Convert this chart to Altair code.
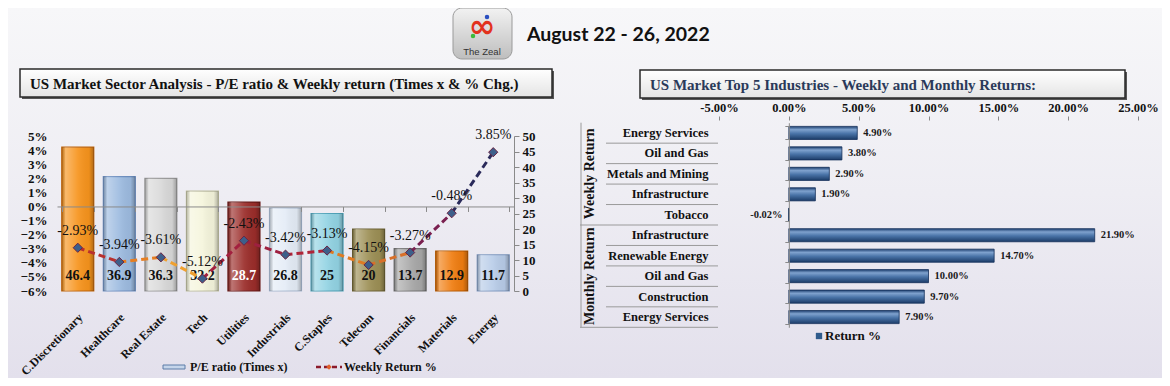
import altair as alt
import pandas as pd

# ---------------- data ----------------
sectors = ["C.Discretionary", "Healthcare", "Real Estate", "Tech", "Utilities", "Industrials",
           "C.Staples", "Telecom", "Financials", "Materials", "Energy"]
pe_ratio = [46.4, 36.9, 36.3, 32.2, 28.7, 26.8, 25, 20, 13.7, 12.9, 11.7]
weekly_return = [-2.93, -3.94, -3.61, -5.12, -2.43, -3.42, -3.13, -4.15, -3.27, -0.48, 3.85]

industry_groups = ["Weekly Return"] * 5 + ["Monthly Return"] * 5
industries = ["Energy Services", "Oil and Gas", "Metals and Mining", "Infrastructure", "Tobacco",
              "Infrastructure", "Renewable Energy", "Oil and Gas", "Construction", "Energy Services"]
industry_returns = [4.90, 3.80, 2.90, 1.90, -0.02, 21.90, 14.70, 10.00, 9.70, 7.90]

pe_axis_values = [0, 5, 10, 15, 20, 25, 30, 35, 40, 45, 50]
return_axis_values = [-6, -5, -4, -3, -2, -1, 0, 1, 2, 3, 4, 5]
industry_axis_values = [-5, 0, 5, 10, 15, 20, 25]

left_title = "US Market Sector Analysis - P/E ratio & Weekly return (Times x & % Chg.)"
right_title = "US Market Top 5 Industries - Weekly and Monthly Returns:"
date_text = "August 22 - 26, 2022"
logo_text = "The Zeal"
left_legend = ["P/E  ratio (Times x)", "Weekly Return %"]
right_legend = ["Return %"]
group_names = ["Weekly Return", "Monthly Return"]

# ---------------- styles ----------------
SERIF = "Liberation Serif"
bar_fills = ["#F7941D", "#9DBBE0", "#D9D9D9", "#F5F5DC", "#9B2D2A", "#E4ECF6",
             "#92D3E3", "#9C8F55", "#A8A8A8", "#F07D10", "#B8CCE8"]
bar_edges = ["#C0640A", "#6C8EBF", "#9A9A9A", "#BDBDA0", "#6B1A18", "#A7B8CF",
             "#4FA2B8", "#6C6235", "#707070", "#B85A00", "#7F98BF"]
segment_colors = ["#B8302E", "#E67E22", "#F0A030", "#A3203F", "#9E2040",
                  "#B02438", "#E07A22", "#D8702A", "#7A2050", "#2A2A5A"]

W, H = 1154, 370
LX0, LX1 = 49, 506
LYB, LYT = 283, 128
RX0, RX1 = 711, 1130
RYT, RYB = 114.7, 319.3
ZERO_L = LYB - 6 / 11 * (LYB - LYT)
ZERO_R = RX0 + 5 / 30 * (RX1 - RX0)
STEP_R = (RYB - RYT) / len(industries)

sec_df = pd.DataFrame({"sector": sectors, "pe": pe_ratio, "ret": weekly_return})
seg_rows = []
for i in range(len(sectors) - 1):
    for j in (i, i + 1):
        seg_rows.append({"seg": i, "sector": sectors[j], "ret": weekly_return[j], "col": segment_colors[i]})
seg_df = pd.DataFrame(seg_rows)

row_ids = [f"{g}|{n}" for g, n in zip(industry_groups, industries)]
ind_df = pd.DataFrame({"row": row_ids, "group": industry_groups, "name": industries, "val": industry_returns})
ind_df["first"] = ind_df["group"] != ind_df["group"].shift()
ind_df["last"] = ind_df["group"] != ind_df["group"].shift(-1)

one = pd.DataFrame({"k": [0]})


def pct(field, fmt):
    return f"(datum.{field} < 0 ? '-' : '') + format(abs(datum.{field}), '{fmt}') + '%'"


def sx(axis=None):
    return alt.X("sector:N", title=None, axis=axis,
                 scale=alt.Scale(type="band", domain=sectors, range=[LX0, LX1],
                                 paddingInner=0.23, paddingOuter=0.115))


def ret_y(axis=None):
    return alt.Y("ret:Q", title=None, axis=axis,
                 scale=alt.Scale(domain=[-6, 5], range=[LYB, LYT], nice=False, zero=False))


def pe_y(axis=None):
    return alt.Y("pe:Q", title=None, axis=axis,
                 scale=alt.Scale(domain=[0, 50], range=[LYB, LYT], nice=False))


def ry(axis=None, inner=0.36, bp=None):
    kw = {}
    if bp is not None:
        kw["bandPosition"] = bp
    return alt.Y("row:N", title=None, axis=axis,
                 scale=alt.Scale(type="band", domain=row_ids, range=[RYT, RYB],
                                 paddingInner=inner, paddingOuter=inner / 2), **kw)


def rx(axis=None):
    return alt.X("val:Q", title=None, axis=axis,
                 scale=alt.Scale(domain=[-5, 25], range=[RX0, RX1], nice=False, zero=False))


lab = dict(labelFont=SERIF, labelFontWeight="bold", labelColor="#111", grid=False,
           labelOverlap=False, labelFlush=False, zindex=2)

# ---------------- background ----------------
bg = alt.Chart(one).mark_rect(fill=alt.Gradient(
    gradient="linear", x1=0, x2=0, y1=0, y2=1,
    stops=[alt.GradientStop(color="#F7F7F9", offset=0),
           alt.GradientStop(color="#EEEDF3", offset=0.5),
           alt.GradientStop(color="#E3E0EC", offset=1)])).encode(
    x=alt.value(0), x2=alt.value(W), y=alt.value(0), y2=alt.value(H))

# ---------------- header ----------------
logo_box = alt.Chart(one).mark_rect(cornerRadius=9, stroke="#9A9A9A", strokeWidth=1,
                                    fill=alt.Gradient(gradient="linear", x1=0, x2=0, y1=0, y2=1,
                                                      stops=[alt.GradientStop(color="#F2F2F2", offset=0),
                                                             alt.GradientStop(color="#BEBEBE", offset=1)])).encode(
    x=alt.value(445), x2=alt.value(504), y=alt.value(0), y2=alt.value(51))
logo_mark = alt.Chart(one).mark_text(text="∞", font="DejaVu Sans", fontWeight="bold", fontSize=32,
                                     color="#E2321E", baseline="middle").encode(x=alt.value(474), y=alt.value(19))
logo_dot1 = alt.Chart(one).mark_circle(size=20, color="#2A4FC0", opacity=1).encode(x=alt.value(479), y=alt.value(9))
logo_dot2 = alt.Chart(one).mark_circle(size=20, color="#3DBB3D", opacity=1).encode(x=alt.value(465), y=alt.value(28))
logo_txt = alt.Chart(one).mark_text(text=logo_text, font="Liberation Sans", fontSize=9.5, color="#333",
                                    baseline="middle").encode(x=alt.value(474), y=alt.value(44))
date_lbl = alt.Chart(one).mark_text(text=date_text, font="Lato", fontWeight="bold", fontSize=19.5, color="#111",
                                    align="left", baseline="middle").encode(x=alt.value(519), y=alt.value(27))


def title_box(x0, x1, y0, y1, text, color):
    shadow = alt.Chart(one).mark_rect(fill="#555555").encode(
        x=alt.value(x0 + 2), x2=alt.value(x1 + 2), y=alt.value(y0 + 2), y2=alt.value(y1 + 2))
    box = alt.Chart(one).mark_rect(stroke="#2A2A2A", strokeWidth=1.5, fill=alt.Gradient(
        gradient="linear", x1=0, x2=0, y1=0, y2=1,
        stops=[alt.GradientStop(color="#FFFFFF", offset=0), alt.GradientStop(color="#E4E4E4", offset=1)])).encode(
        x=alt.value(x0), x2=alt.value(x1), y=alt.value(y0), y2=alt.value(y1))
    txt = alt.Chart(one).mark_text(text=text, font=SERIF, fontWeight="bold", fontSize=15, color=color,
                                   align="left", baseline="middle").encode(
        x=alt.value(x0 + 10), y=alt.value((y0 + y1) / 2 + 1))
    return [shadow, box, txt]


# ---------------- left panel ----------------
cat_axis = alt.Axis(orient="bottom", offset=-(H - LYB), domain=False, ticks=False, labelAngle=-45,
                    labelAlign="right", labelBaseline="middle", labelPadding=24, labelOffset=3,
                    labelFontSize=12, **lab)
pe_axis = alt.Axis(orient="right", offset=-(W - LX1), values=pe_axis_values, domain=True, domainColor="#8A8A8A",
                   ticks=True, tickSize=5, tickColor="#8A8A8A", labelPadding=3, labelFontSize=13, **lab)
ret_axis = alt.Axis(orient="left", offset=-LX0, values=return_axis_values, labelExpr="datum.label + '%'",
                    domain=False, ticks=False, labelPadding=10, labelFontSize=13, format="d", **lab)
zero_axis = alt.Axis(orient="bottom", offset=-(H - ZERO_L), labels=False, domain=True, domainColor="#8A8A8A",
                     ticks=True, tickBand="extent", tickSize=5, tickColor="#8A8A8A", grid=False, zindex=2)

bars = alt.Chart(sec_df).mark_bar(strokeWidth=1.2).encode(
    x=sx(cat_axis), y=pe_y(pe_axis),
    fill=alt.Fill("sector:N", scale=alt.Scale(domain=sectors, range=bar_fills), legend=None),
    stroke=alt.Stroke("sector:N", scale=alt.Scale(domain=sectors, range=bar_edges), legend=None))
shine = alt.Chart(sec_df).mark_bar(fill=alt.Gradient(
    gradient="linear", x1=0, x2=1, y1=0, y2=0,
    stops=[alt.GradientStop(color="rgba(0,0,0,0.22)", offset=0),
           alt.GradientStop(color="rgba(255,255,255,0.35)", offset=0.12),
           alt.GradientStop(color="rgba(255,255,255,0.08)", offset=0.5),
           alt.GradientStop(color="rgba(0,0,0,0.04)", offset=0.85),
           alt.GradientStop(color="rgba(0,0,0,0.28)", offset=1)])).encode(x=sx(), y=pe_y())
pe_lbl = alt.Chart(sec_df).mark_text(font=SERIF, fontSize=14, fontWeight="bold", baseline="middle").encode(
    x=sx(), y=alt.value(268), text=alt.Text("pe:Q", format=".1~f"),
    color=alt.condition(alt.datum.sector == "Utilities", alt.value("#FFFFFF"), alt.value("#111111")))
line = alt.Chart(seg_df).mark_line(strokeWidth=3, strokeDash=[7, 4]).encode(
    x=sx(zero_axis), y=ret_y(ret_axis), detail="seg:N", color=alt.Color("col:N", scale=None))
pts = alt.Chart(sec_df).mark_point(shape="diamond", filled=True, size=85, fill="#3D5F8A", stroke="#6A2444",
                                   strokeWidth=1, opacity=1).encode(x=sx(), y=ret_y())
ret_lbl = alt.Chart(sec_df).transform_calculate(t=pct("ret", ".2f")).mark_text(
    font=SERIF, fontSize=14, dy=-17, color="#111", baseline="middle").encode(x=sx(), y=ret_y(), text="t:N")

leg1_sym = alt.Chart(one).mark_rect(fill="#C5D5EA", stroke="#5C7CA8", strokeWidth=1).encode(
    x=alt.value(155), x2=alt.value(177), y=alt.value(357), y2=alt.value(361))
leg1_txt = alt.Chart(one).mark_text(text=left_legend[0], font=SERIF, fontWeight="bold", fontSize=12,
                                    align="left", baseline="middle", color="#111").encode(
    x=alt.value(182), y=alt.value(359))
leg2_line = alt.Chart(one).mark_rule(strokeDash=[5, 3], strokeWidth=2.5, color="#8B1A2B").encode(
    x=alt.value(308), x2=alt.value(334), y=alt.value(359))
leg2_pt = alt.Chart(one).mark_point(shape="diamond", filled=True, size=30, fill="#E0602A", opacity=1).encode(
    x=alt.value(321), y=alt.value(359))
leg2_txt = alt.Chart(one).mark_text(text=left_legend[1], font=SERIF, fontWeight="bold", fontSize=12,
                                    align="left", baseline="middle", color="#111").encode(
    x=alt.value(336), y=alt.value(359))

# ---------------- right panel ----------------
top_axis = alt.Axis(orient="top", offset=-112, values=industry_axis_values,
                    labelExpr="(datum.value < 0 ? '-' : '') + format(abs(datum.value), '.2f') + '%'",
                    domain=False, ticks=True, tickSize=4,
                    tickColor="#8A8A8A", labelPadding=2, labelFontSize=12.5, **lab)
row_axis = alt.Axis(orient="left", offset=-700, labelExpr="split(datum.label, '|')[1]", domain=False,
                    ticks=False, labelPadding=0, labelFontSize=12.5, **lab)
zero_axis_r = alt.Axis(orient="left", offset=-ZERO_R, labels=False, domain=True, domainColor="#8A8A8A",
                       ticks=True, tickBand="extent", tickSize=4, tickColor="#8A8A8A", grid=False, zindex=2)

rbars = alt.Chart(ind_df).mark_bar(stroke="#14305A", strokeWidth=0.8, fill=alt.Gradient(
    gradient="linear", x1=0, x2=0, y1=0, y2=1,
    stops=[alt.GradientStop(color="#1E4070", offset=0),
           alt.GradientStop(color="#7FA2CE", offset=0.25),
           alt.GradientStop(color="#4A74A8", offset=0.55),
           alt.GradientStop(color="#1C3C68", offset=1)])).encode(x=rx(top_axis), y=ry(row_axis))
rlbl_pos = alt.Chart(ind_df).transform_filter("datum.val >= 0").transform_calculate(
    t=pct("val", ".2f")).mark_text(font=SERIF, fontWeight="bold", fontSize=10.5, align="left",
                                    baseline="middle", dx=6, color="#1A1A1A").encode(
    x=rx(), y=ry(zero_axis_r), text="t:N")
rlbl_neg = alt.Chart(ind_df).transform_filter("datum.val < 0").transform_calculate(
    t=pct("val", ".2f")).mark_text(font=SERIF, fontWeight="bold", fontSize=10.5, align="right",
                                    baseline="middle", dx=-6, color="#1A1A1A").encode(
    x=rx(), y=ry(), text="t:N")

sep_inner = alt.Chart(ind_df).transform_filter("!datum.first").mark_rule(color="#9A9A9A", strokeWidth=1).encode(
    y=ry(inner=0, bp=0), x=alt.value(598), x2=alt.value(710))
sep_group = alt.Chart(ind_df).transform_filter("datum.first && datum.group == 'Monthly Return'").mark_rule(
    color="#9A9A9A", strokeWidth=1).encode(y=ry(inner=0, bp=0), x=alt.value(572), x2=alt.value(710))
sep_bottom = alt.Chart(ind_df).transform_filter("datum.last && datum.group == 'Monthly Return'").mark_rule(
    color="#9A9A9A", strokeWidth=1).encode(y=ry(inner=0, bp=1), x=alt.value(572), x2=alt.value(710))
sep_left = alt.Chart(one).mark_rule(color="#9A9A9A", strokeWidth=1).encode(
    x=alt.value(573), y=alt.value(RYT), y2=alt.value(RYB))

grp_lbls = []
for gi, g in enumerate(group_names):
    grp_lbls.append(alt.Chart(one).mark_text(text=g, font=SERIF, fontWeight="bold", fontSize=14, angle=270,
                                             align="center", baseline="middle", color="#111").encode(
        x=alt.value(582), y=alt.value(RYT + STEP_R * (2.5 + 5 * gi))))

rleg_sym = alt.Chart(one).mark_square(size=40, color="#2F5B8C", opacity=1).encode(
    x=alt.value(811), y=alt.value(328))
rleg_txt = alt.Chart(one).mark_text(text=right_legend[0], font=SERIF, fontWeight="bold", fontSize=13,
                                    align="left", baseline="middle", color="#111").encode(
    x=alt.value(817), y=alt.value(328))

layers = [bg, logo_box, logo_mark, logo_dot1, logo_dot2, logo_txt, date_lbl]
layers += title_box(12, 544, 61, 89, left_title, "#111111")
layers += title_box(632, 1117, 62, 90, right_title, "#2B3A5A")
layers += [bars, shine, pe_lbl, line, pts, ret_lbl, leg1_sym, leg1_txt, leg2_line, leg2_pt, leg2_txt]
layers += [sep_inner, sep_group, sep_bottom, sep_left] + grp_lbls
layers += [rbars, rlbl_pos, rlbl_neg, rleg_sym, rleg_txt]

chart = alt.layer(*layers).resolve_scale(
    x="independent", y="independent", fill="independent", stroke="independent", color="independent"
).properties(
    width=W, height=H, padding=0, autosize=alt.AutoSizeParams(type="none")
).configure_view(strokeWidth=0).configure(background="#F0EFF4")

chart.save("out.html", embed_options={"renderer": "svg", "actions": False})
